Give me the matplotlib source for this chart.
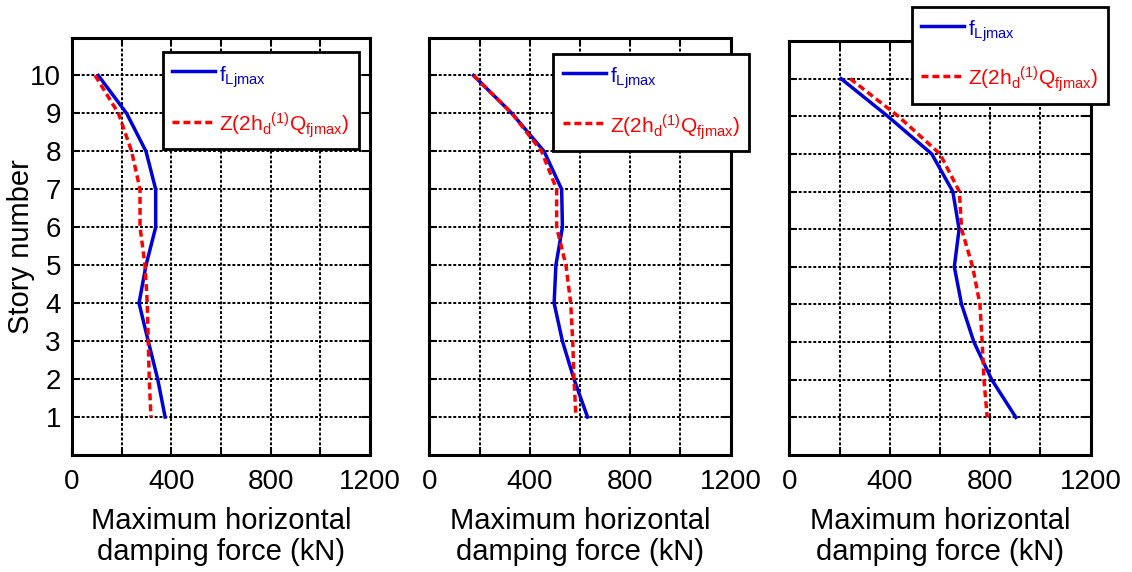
import matplotlib.pyplot as plt
from matplotlib.ticker import FixedLocator, FixedFormatter

plt.rcParams['font.family'] = ['Liberation Sans', 'DejaVu Sans']
plt.rcParams['mathtext.fontset'] = 'custom'
plt.rcParams['mathtext.rm'] = 'Liberation Sans'
plt.rcParams['mathtext.it'] = 'Liberation Sans:italic'
plt.rcParams['mathtext.default'] = 'regular'

stories = [10, 9, 8, 7, 6, 5, 4, 3, 2, 1]

# peak damper force per story (kN), three cases
f_ljmax_a = [106, 220, 298, 337, 337, 298, 270, 307, 345, 375]
z_q_a = [93, 187, 240, 274, 274, 294, 303, 307, 311, 318]

f_ljmax_b = [176, 329, 457, 527, 530, 504, 497, 530, 576, 630]
z_q_b = [176, 329, 447, 507, 507, 544, 563, 571, 576, 584]

f_ljmax_c = [206, 392, 567, 651, 676, 657, 686, 735, 806, 902]
z_q_c = [242, 434, 600, 677, 686, 730, 759, 768, 775, 788]

x_ticks = [0, 200, 400, 600, 800, 1000, 1200]
x_labels = ['0', '', '400', '', '800', '', '1200']
y_ticks = list(range(1, 11))

label_f = r'$f_{Ljmax}$'
label_z = r'$Z(2h_{d}{}^{(1)}Q_{fjmax})$'

fig = plt.figure(figsize=(11.32, 5.72), dpi=100)
W, H = 1132, 572

panels = [
    (f_ljmax_a, z_q_a, (72, 37.5, 370, 455), (162.7, 52.3), True),
    (f_ljmax_b, z_q_b, (429.3, 37.5, 730.7, 455), (553.3, 54), False),
    (f_ljmax_c, z_q_c, (789.3, 41, 1090.7, 455), (911.7, 6.7), False),
]

for f_vals, z_vals, (x0, y0, x1, y1), (lx, ly), show_y in panels:
    ax = fig.add_axes([x0 / W, 1 - y1 / H, (x1 - x0) / W, (y1 - y0) / H])
    ax.plot(f_vals, stories, color='#0000dd', lw=2.5, label=label_f)
    ax.plot(z_vals, stories, color='#ff0000', lw=2.5, ls='--',
            dashes=(2.0, 1.15), label=label_z)
    ax.set_xlim(0, 1200)
    ax.set_ylim(0, 11)
    ax.xaxis.set_major_locator(FixedLocator(x_ticks))
    ax.xaxis.set_major_formatter(FixedFormatter(x_labels))
    ax.yaxis.set_major_locator(FixedLocator(y_ticks))
    if not show_y:
        ax.set_yticklabels([])
    else:
        ax.set_ylabel('Story number', fontsize=21)
        ax.yaxis.set_label_coords(-0.125, 0.5)
    ax.tick_params(direction='in', length=6, width=1.5, labelsize=20,
                   top=True, right=True, pad=8)
    ax.tick_params(axis='x', pad=10)
    ax.grid(True, color='black', lw=1.4, ls=(0, (1.5, 1.0)))
    for sp in ax.spines.values():
        sp.set_linewidth(2.2)
    ax.set_xlabel('Maximum horizontal\ndamping force (kN)', fontsize=21,
                  linespacing=1.1, labelpad=9)

    leg = ax.legend(loc='upper left', bbox_to_anchor=(lx / W, 1 - ly / H),
                    bbox_transform=fig.transFigure, borderaxespad=0,
                    fontsize=15, fancybox=False, framealpha=1,
                    edgecolor='black', handlelength=2.07, handletextpad=0.2,
                    handleheight=1.5, labelspacing=1.0, borderpad=0.45,
                    labelcolor='linecolor')
    leg.get_frame().set_linewidth(2.0)

fig.savefig('out.png', dpi=100)
